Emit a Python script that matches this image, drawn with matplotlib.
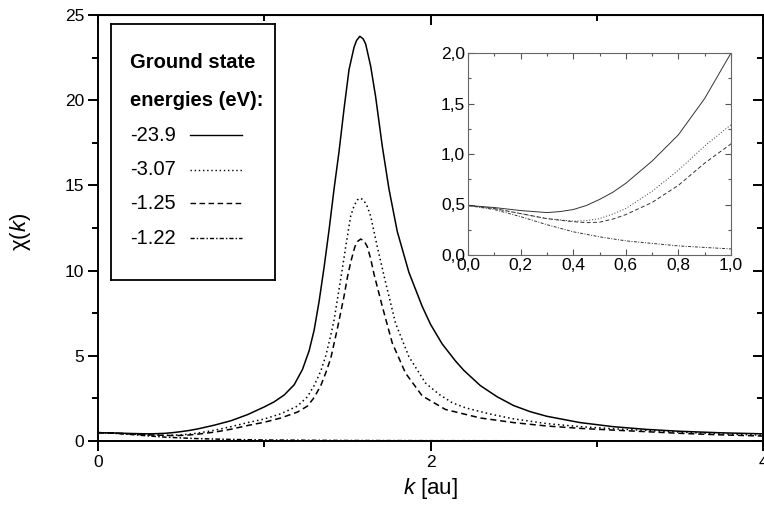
import matplotlib.pyplot as plt
from matplotlib.ticker import MultipleLocator, FuncFormatter

plt.rcParams['font.family'] = ['Liberation Sans', 'DejaVu Sans']
plt.rcParams['mathtext.fontset'] = 'custom'
plt.rcParams['mathtext.rm'] = 'Liberation Sans'
plt.rcParams['mathtext.it'] = 'Liberation Sans:italic'

# values
energies = ['-23.9', '-3.07', '-1.25', '-1.22']

k_a = [0.0, 0.1, 0.2, 0.3, 0.35, 0.4, 0.45, 0.5, 0.55, 0.6, 0.7, 0.8, 0.9, 1.0,
       1.06, 1.12, 1.18, 1.23, 1.27, 1.30, 1.33, 1.36, 1.39, 1.42, 1.45, 1.48,
       1.51, 1.54, 1.555, 1.575, 1.595, 1.61, 1.64, 1.67, 1.71, 1.75, 1.80, 1.87,
       1.95, 2.0, 2.07, 2.15, 2.2, 2.3, 2.4, 2.5, 2.6, 2.7, 2.9, 3.1, 3.3, 3.5,
       3.75, 4.0]
chi_a = [0.49, 0.47, 0.44, 0.42, 0.43, 0.45, 0.49, 0.55, 0.62, 0.71, 0.93, 1.19,
         1.55, 2.0, 2.3, 2.7, 3.3, 4.2, 5.3, 6.5, 8.2, 10.2, 12.4, 14.8, 17.0,
         19.5, 21.8, 23.1, 23.5, 23.75, 23.6, 23.3, 22.0, 20.2, 17.3, 14.8, 12.3,
         9.9, 7.9, 6.85, 5.7, 4.7, 4.15, 3.25, 2.6, 2.08, 1.72, 1.45, 1.08, 0.84,
         0.68, 0.57, 0.48, 0.42]

k_b = [0.0, 0.1, 0.2, 0.3, 0.4, 0.45, 0.5, 0.55, 0.6, 0.7, 0.8, 0.9, 1.0, 1.1,
       1.2, 1.26, 1.30, 1.34, 1.37, 1.40, 1.42, 1.44, 1.46, 1.49, 1.52, 1.54,
       1.56, 1.58, 1.60, 1.62, 1.64, 1.68, 1.73, 1.79, 1.87, 1.97, 2.05, 2.13,
       2.21, 2.35, 2.5, 2.7, 2.9, 3.1, 3.5, 3.75, 4.0]
chi_b = [0.49, 0.46, 0.41, 0.36, 0.335, 0.34, 0.36, 0.405, 0.46, 0.63, 0.84, 1.08,
         1.29, 1.6, 2.05, 2.6, 3.25, 4.1, 5.0, 6.2, 7.1, 8.3, 9.5, 11.4, 13.2,
         13.8, 14.15, 14.25, 14.1, 13.75, 13.2, 11.4, 9.3, 6.9, 4.95, 3.4, 2.75,
         2.25, 1.95, 1.6, 1.3, 1.02, 0.84, 0.72, 0.52, 0.42, 0.34]

k_c = [0.0, 0.1, 0.2, 0.3, 0.4, 0.45, 0.5, 0.55, 0.6, 0.7, 0.8, 0.9, 1.0, 1.1,
       1.2, 1.26, 1.30, 1.34, 1.37, 1.40, 1.44, 1.48, 1.50, 1.52, 1.545, 1.56,
       1.58, 1.60, 1.62, 1.64, 1.66, 1.71, 1.77, 1.85, 1.95, 2.09, 2.3, 2.5, 2.7,
       2.9, 3.1, 3.5, 3.75, 4.0]
chi_c = [0.49, 0.46, 0.41, 0.36, 0.33, 0.32, 0.325, 0.355, 0.40, 0.52, 0.69, 0.91,
         1.10, 1.35, 1.7, 2.05, 2.55, 3.25, 4.0, 4.85, 6.6, 8.5, 9.6, 10.5, 11.4,
         11.7, 11.85, 11.75, 11.4, 10.7, 9.8, 7.9, 5.75, 3.98, 2.65, 1.85, 1.35,
         1.08, 0.88, 0.74, 0.64, 0.45, 0.36, 0.29]

k_d = [0.0, 0.1, 0.2, 0.3, 0.4, 0.5, 0.6, 0.7, 0.8, 0.9, 1.0, 1.5, 2.0, 3.0, 4.0]
chi_d = [0.49, 0.45, 0.38, 0.30, 0.23, 0.18, 0.14, 0.115, 0.09, 0.075, 0.06,
         0.03, 0.02, 0.01, 0.01]

series = [(k_a, chi_a, '-'), (k_b, chi_b, (0, (1, 2))),
          (k_c, chi_c, (0, (4, 2.5))), (k_d, chi_d, (0, (3, 1.5, 1, 1.5)))]

fig = plt.figure(figsize=(7.64, 5.17), dpi=100)
ax = fig.add_axes([98 / 764, 1 - 441 / 517, 665 / 764, 426 / 517])

for k, chi, ls in series:
    ax.plot(k, chi, color='black', linestyle=ls, linewidth=1.1)

ax.set_xlim(0, 4)
ax.set_ylim(0, 25)
ax.xaxis.set_major_locator(MultipleLocator(2))
ax.xaxis.set_minor_locator(MultipleLocator(1))
ax.yaxis.set_major_locator(MultipleLocator(5))
ax.yaxis.set_minor_locator(MultipleLocator(2.5))
ax.tick_params(which='major', direction='out', length=7, width=1.4, labelsize=12.5, pad=3)
ax.tick_params(which='minor', direction='out', length=4, width=1.4)
for s in ax.spines.values():
    s.set_linewidth(1.4)

# inward ticks on the top and right frame
sec_x = ax.secondary_xaxis('top')
sec_x.xaxis.set_major_locator(MultipleLocator(2))
sec_x.xaxis.set_minor_locator(MultipleLocator(1))
sec_x.tick_params(which='major', direction='in', length=7, width=1.4, labeltop=False)
sec_x.tick_params(which='minor', direction='in', length=4, width=1.4)
sec_y = ax.secondary_yaxis('right')
sec_y.yaxis.set_major_locator(MultipleLocator(5))
sec_y.yaxis.set_minor_locator(MultipleLocator(2.5))
sec_y.tick_params(which='major', direction='in', length=7, width=1.4, labelright=False)
sec_y.tick_params(which='minor', direction='in', length=4, width=1.4)

ax.set_xlabel(r'$k$ [au]', fontsize=16)
ax.set_ylabel(r'$\mathrm{χ(}k\mathrm{)}$', fontsize=16)
ax.xaxis.set_label_coords(0.5, -0.083)
ax.yaxis.set_label_coords(-0.098, 0.49)

# legend box
lg = fig.add_axes([111 / 764, 1 - 280 / 517, 164 / 764, 256 / 517])
lg.set_xlim(0, 1)
lg.set_ylim(0, 1)
lg.set_xticks([])
lg.set_yticks([])
for s in lg.spines.values():
    s.set_linewidth(1.3)
lg.text(0.115, 0.848, 'Ground state', fontsize=14.5, fontweight='bold', va='center')
lg.text(0.115, 0.703, 'energies (eV):', fontsize=14.5, fontweight='bold', va='center')
rows = [0.566, 0.43, 0.30, 0.164]
for (k, chi, ls), label, yy in zip(series, energies, rows):
    lg.text(0.115, yy, label, fontsize=14.5, va='center')
    lg.plot([0.48, 0.80], [yy, yy], color='black', linestyle=ls, linewidth=1.0)

# inset
ins = fig.add_axes([468 / 764, 1 - 255 / 517, 263 / 764, 202 / 517])
for k, chi, ls in series:
    ins.plot(k, chi, color='#333333', linestyle=ls, linewidth=0.7)
ins.set_xlim(0, 1)
ins.set_ylim(0, 2)
ins.xaxis.set_major_locator(MultipleLocator(0.2))
ins.xaxis.set_minor_locator(MultipleLocator(0.1))
ins.yaxis.set_major_locator(MultipleLocator(0.5))
ins.yaxis.set_minor_locator(MultipleLocator(0.25))
comma = FuncFormatter(lambda v, p: '{:.1f}'.format(v).replace('.', ','))
ins.xaxis.set_major_formatter(comma)
ins.yaxis.set_major_formatter(comma)
ins.tick_params(which='both', direction='in', top=True, right=True,
                width=0.8, color='#555555')
ins.tick_params(which='major', length=4, labelsize=12.5, pad=2)
ins.tick_params(which='minor', length=2)
for s in ins.spines.values():
    s.set_linewidth(0.8)
    s.set_color('#666666')

fig.savefig('out.png', dpi=100)
